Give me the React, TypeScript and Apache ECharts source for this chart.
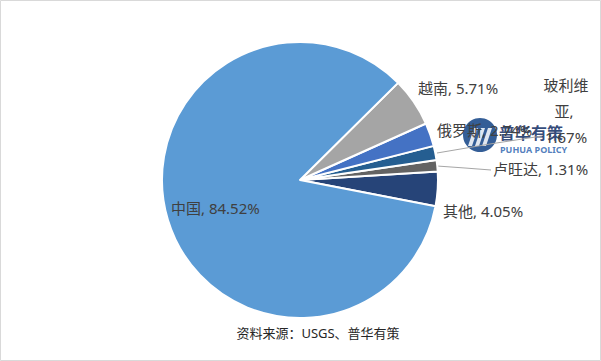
import React, { useEffect, useRef } from 'react';
import * as echarts from 'echarts';

const countries = ['其他', '卢旺达', '玻利维亚', '俄罗斯', '越南', '中国'];
const shares = [4.05, 1.31, 1.67, 2.74, 5.71, 84.52];
const colors = ['#264478', '#636363', '#255E91', '#4472C4', '#A5A5A5', '#5B9BD5'];
const sourceNote = '资料来源：USGS、普华有策';
const watermarkCn = '普华有策';
const watermarkEn = 'PUHUA POLICY';

// label anchor positions (annotation layout only)
const labelPos: any[] = [
  { x: 443, y: 211, align: 'left' },
  { x: 493, y: 169, align: 'left', line: [[437, 166], [465, 168], [491, 170]] },
  { x: 566, y: 111, align: 'center', line: [[437, 153], [490, 144], [542, 136]] },
  { x: 437, y: 130, align: 'left' },
  { x: 418, y: 88, align: 'left' },
  { x: 171, y: 208, align: 'left' },
];

const FONT = '"Noto Sans", "Noto Sans CJK SC", sans-serif';

export default function App() {
  const ref = useRef<HTMLDivElement>(null);
  useEffect(() => {
    document.body.style.margin = '0';
    const chart = echarts.init(ref.current!, undefined, { renderer: 'svg' });
    const data = countries.map((name, i) => {
      const item: any = { name, value: shares[i], itemStyle: { color: colors[i] } };
      if (name === '玻利维亚') {
        item.label = { width: 46, overflow: 'break', align: 'center', lineHeight: 26 };
      }
      item.labelLine = { show: !!labelPos[i].line };
      return item;
    });
    chart.setOption({
      animation: false,
      backgroundColor: '#ffffff',
      textStyle: { fontFamily: FONT },
      series: [
        {
          type: 'pie',
          center: [300, 180],
          radius: 138,
          startAngle: -11,
          clockwise: false,
          avoidLabelOverlap: false,
          itemStyle: { borderColor: '#ffffff', borderWidth: 2 },
          label: {
            show: true,
            position: 'outside',
            fontSize: 15,
            fontFamily: FONT,
            color: '#404040',
            formatter: (p: any) => `${p.name}, ${Number(p.value).toFixed(2)}%`,
          },
          labelLine: { show: true, lineStyle: { color: '#A6A6A6', width: 1 } },
          labelLayout: (params: any) => {
            const lp = labelPos[params.dataIndex];
            const res: any = {
              x: lp.x,
              y: lp.y,
              align: lp.align,
              verticalAlign: 'middle',
              hideOverlap: false,
            };
            if (lp.line) res.labelLinePoints = lp.line;
            return res;
          },
          data,
        },
      ],
      graphic: [
        {
          type: 'rect',
          shape: { x: 0.5, y: 0.5, width: 600, height: 360 },
          style: { fill: 'none', stroke: '#D9D9D9', lineWidth: 1 },
          silent: true,
        },
        {
          type: 'text',
          style: {
            x: 318,
            y: 333,
            text: sourceNote,
            fontSize: 13,
            fill: '#262626',
            fontFamily: FONT,
            textAlign: 'center',
            textVerticalAlign: 'middle',
          },
        },
        {
          type: 'group',
          z: 100,
          children: [
            { type: 'circle', shape: { cx: 480, cy: 135, r: 17 }, style: { fill: '#1E4C8C', opacity: 0.9 } },
            { type: 'polygon', shape: { points: [[468, 146], [474, 128], [478, 128], [472, 146]] }, style: { fill: '#ffffff', opacity: 0.85 } },
            { type: 'polygon', shape: { points: [[475, 146], [481, 128], [485, 128], [479, 146]] }, style: { fill: '#ffffff', opacity: 0.85 } },
            { type: 'polygon', shape: { points: [[482, 146], [488, 128], [492, 128], [486, 146]] }, style: { fill: '#ffffff', opacity: 0.85 } },
            { type: 'text', style: { x: 499, y: 133, text: watermarkCn, fontSize: 16, fontWeight: 'bold', fill: '#1F3A6E', textVerticalAlign: 'middle', fontFamily: FONT, opacity: 0.92 } },
            { type: 'text', style: { x: 500, y: 149, text: watermarkEn, fontSize: 9, fontWeight: 'bold', fill: '#3D70B5', textVerticalAlign: 'middle', fontFamily: FONT, opacity: 0.9 } },
          ],
        },
      ],
    });
    return () => chart.dispose();
  }, []);
  return <div ref={ref} style={{ width: 601, height: 361 }} />;
}
